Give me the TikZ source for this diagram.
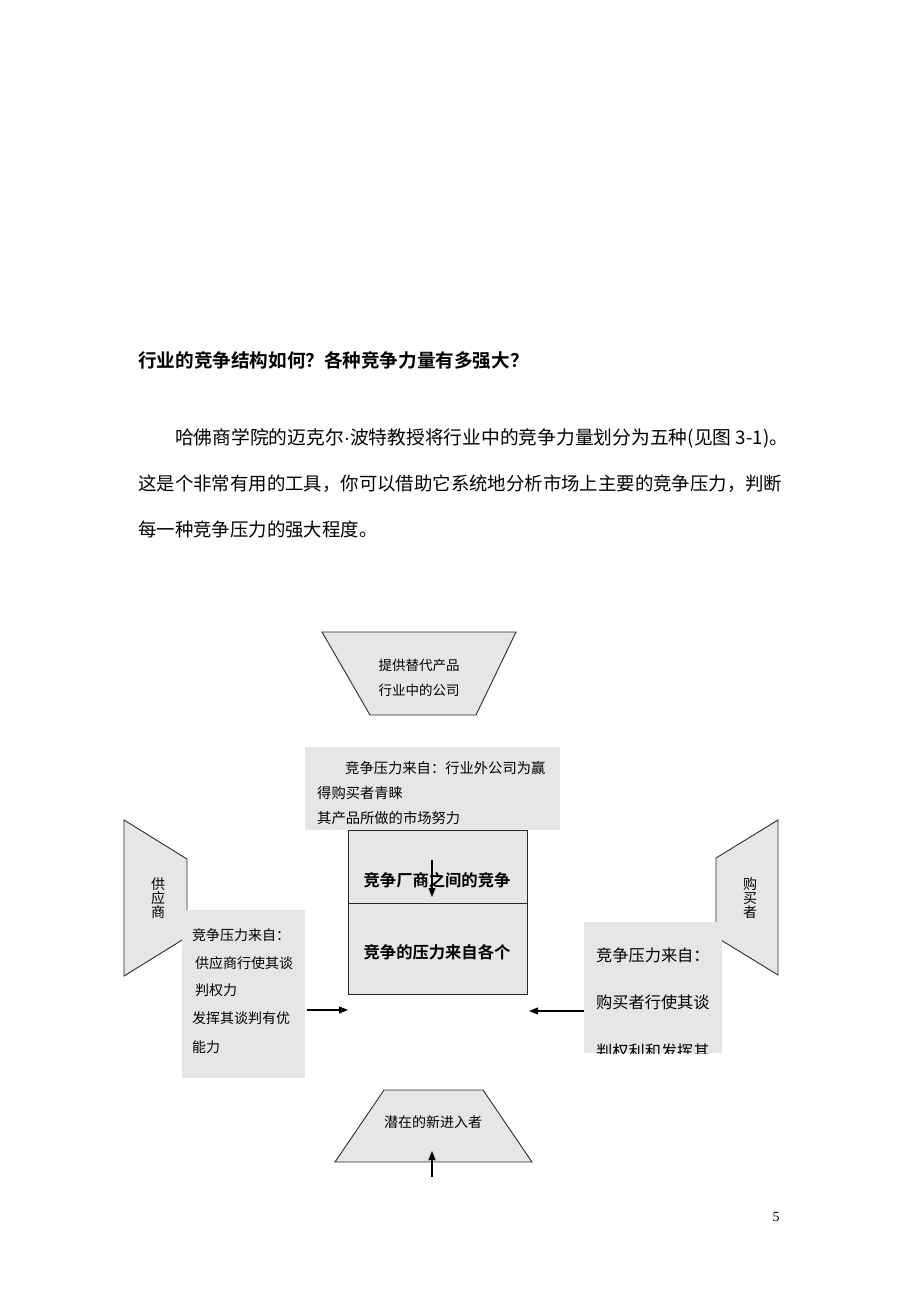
\documentclass[tikz,border=0pt]{standalone}
\usepackage{fontspec}
\setmainfont{Noto Sans CJK SC}[BoldFont={* Bold}]
\newfontfamily\serifnum{Liberation Serif}
\newfontfamily\latinsans{Liberation Sans}
\usetikzlibrary{arrows.meta}
\definecolor{shade}{RGB}{230,230,230}
\definecolor{edge}{RGB}{45,45,45}
\begin{document}
\begin{tikzpicture}[x=1pt,y=-1pt,
  txt/.style={inner sep=0pt, anchor=west},
  ctr/.style={inner sep=0pt},
  shapeline/.style={draw=edge, line width=0.9pt, fill=shade},
  note/.style={fill=shade, draw=none},
  arr/.style={line width=1.1pt, -{Triangle[length=9pt,width=7pt]}},
  body/.style={txt, font=\fontsize{18.4}{20}\selectfont},
  small/.style={font=\fontsize{14}{14}\selectfont}]
\useasboundingbox (0,0) rectangle (920,1302);
\fill[white] (0,0) rectangle (920,1302);

% heading and paragraph
\node[txt, font=\fontsize{18.6}{20}\selectfont\bfseries] (title) at (138,360) {行业的竞争结构如何？各种竞争力量有多强大？};
\node[body, font=\fontsize{18.75}{20}\selectfont] (p1) at (175,438) {哈佛商学院的迈克尔{\latinsans ·}波特教授将行业中的竞争力量划分为五种(见图 3-1)。};
\node[body] (p2) at (138,484) {这是个非常有用的工具，你可以借助它系统地分析市场上主要的竞争压力，判断};
\node[body] (p3) at (138,530) {每一种竞争压力的强大程度。};

% top trapezoid
\draw[shapeline] (322,632) -- (516,632) -- (476,715) -- (370,715) -- cycle;
\node[ctr, font=\fontsize{13.5}{13.5}\selectfont] (sub1) at (419,665) {提供替代产品};
\node[ctr, font=\fontsize{13.5}{13.5}\selectfont] (sub2) at (419,690) {行业中的公司};

% central box
\draw[draw=black!85, line width=1pt, fill=shade] (348,830) rectangle (527,994);
\draw[draw=black!85, line width=1pt] (348,903) -- (527,903);
\node[ctr, font=\fontsize{16.3}{16}\selectfont\bfseries] (rival1) at (437,880) {竞争厂商之间的竞争};
\node[ctr, font=\fontsize{16.3}{16}\selectfont\bfseries] (rival2) at (437,952) {竞争的压力来自各个};

% top note
\fill[note] (305,747) rectangle (560,830);
\node[txt, font=\fontsize{14.3}{14}\selectfont] (tn1) at (345,768) {竞争压力来自：行业外公司为赢};
\node[txt, font=\fontsize{14.3}{14}\selectfont] (tn2) at (317,793) {得购买者青睐};
\node[txt, font=\fontsize{14.3}{14}\selectfont] (tn3) at (317,818) {其产品所做的市场努力};

% arrow down inside central box
\coordinate (dstart) at (432,860);
\coordinate (dend) at (432,897);
\draw[arr] (dstart) -- (dend);

% left trapezoid (suppliers)
\draw[shapeline] (124,820) -- (187,859) -- (187,937) -- (124,976) -- cycle;
\node[ctr, align=center, font=\fontsize{14}{14.2}\selectfont] (sup) at (158,898) {供\\应\\商};
\fill[note] (182,910) rectangle (305,1078);
\node[txt, small] (ln1) at (192,935) {竞争压力来自：};
\node[txt, small] (ln2) at (195,963) {供应商行使其谈};
\node[txt, small] (ln3) at (195,990) {判权力};
\node[txt, small] (ln4) at (192,1018) {发挥其谈判有优};
\node[txt, small] (ln5) at (192,1047) {能力};
\coordinate (lstart) at (307,1010);
\coordinate (lend) at (348,1010);
\draw[arr] (lstart) -- (lend);

% right trapezoid (buyers)
\draw[shapeline] (778,820) -- (716,858) -- (716,937) -- (778,975) -- cycle;
\node[ctr, align=center, font=\fontsize{14}{14.2}\selectfont] (buy) at (750,898) {购\\买\\者};
\fill[note] (584,922) rectangle (722,1053);
\node[txt, font=\fontsize{16.2}{16}\selectfont] (rn1) at (596,955) {竞争压力来自：};
\node[txt, font=\fontsize{16.2}{16}\selectfont] (rn2) at (596,1002) {购买者行使其谈};
\begin{scope}
\clip (584,922) rectangle (722,1053);
\node[txt, font=\fontsize{16.2}{16}\selectfont] (rn3) at (596,1051) {判权利和发挥其};
\end{scope}
\coordinate (rstart) at (584,1011);
\coordinate (rend) at (529,1011);
\draw[arr] (rstart) -- (rend);

% bottom trapezoid (new entrants)
\draw[shapeline] (384,1090) -- (483,1090) -- (532,1162) -- (335,1162) -- cycle;
\node[ctr, font=\fontsize{14}{14}\selectfont] (entr) at (433,1122) {潜在的新进入者};
\coordinate (ustart) at (432,1177);
\coordinate (uend) at (432,1151);
\draw[arr] (ustart) -- (uend);

% page number
\node[ctr, font=\serifnum\fontsize{14}{14}\selectfont] (page) at (776,1217) {5};
\end{tikzpicture}
\end{document}
